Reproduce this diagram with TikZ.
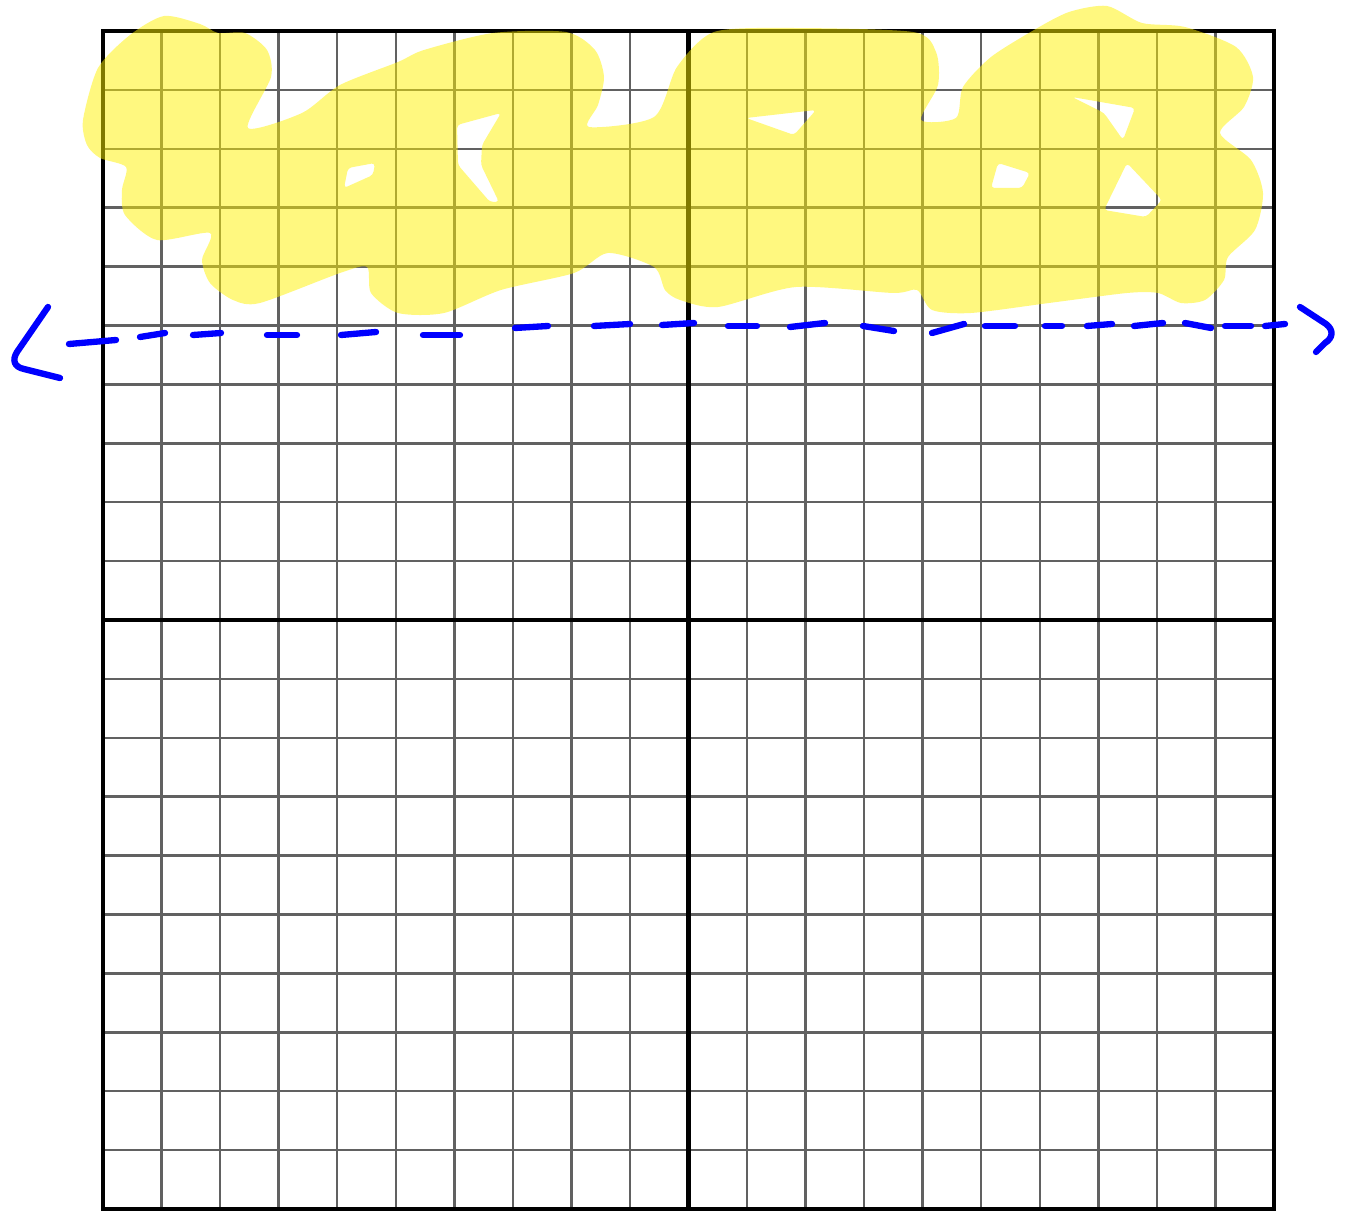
\documentclass[tikz,border=0pt]{standalone}
\usepackage{tikz}

\tikzset{
  thinline/.style={line width=1.4pt, black!62},
  thickline/.style={line width=2.8pt, black},
  marker/.style={fill=yellow, fill opacity=0.5, even odd rule},
  guide/.style={line width=3.6pt, blue, line cap=round, line join=round}
}

\begin{document}
\begin{tikzpicture}[x=0.02cm, y=-0.02cm]
  \useasboundingbox (0,0) rectangle (1346,1212);
  % grid
  \foreach \i in {1,...,19}{
    \draw[thinline] (103+58.55*\i, 31) to (103+58.55*\i, 1209);
    \draw[thinline] (103, 31+58.9*\i) to (1274, 31+58.9*\i);
  }
  \draw[thickline] (103, 31) rectangle (1274, 1209);
  \draw[thickline] (688.5, 31) to (688.5, 1209);
  \draw[thickline] (103, 620) to (1274, 620);
  % highlighter
  \fill[marker]
    plot[smooth cycle, tension=0.45] coordinates {
      (83,120) (98,68) (130,35) (164,16) (200,24) (218,33) (245,33) (267,50)
      (271,77) (248,128) (302,113) (340,85) (398,62) (424,50) (493,33)
      (566,32) (595,50) (604,77) (598,105) (589,127) (654,117) (677,67)
      (714,32) (790,28) (913,32) (936,52) (938,85) (921,120) (956,118)
      (963,87) (991,57) (1034,30) (1069,12) (1107,6) (1142,23) (1185,27)
      (1236,47) (1253,77) (1244,107) (1220,133) (1251,160) (1263,193)
      (1255,230) (1228,257) (1224,280) (1205,300) (1181,303) (1158,293)
      (1127,293) (1049,303) (971,313) (932,310) (917,290) (893,293)
      (796,287) (718,307) (680,300) (665,290) (654,267) (608,253) (574,273)
      (501,290) (444,313) (398,313) (371,293) (367,267) (340,273) (260,303)
      (233,300) (210,283) (202,260) (210,233) (157,240) (125,215) (122,190)
      (126,167) (100,158) (87,145)}
    [rounded corners=2pt]
    (344,188) -- (348,168) -- (375,163) -- (373,175) -- cycle
    (457,125) -- (501,113) -- (482,145) -- (481,165) -- (499,202)
      -- (490,202) -- (458,165) -- cycle
    (746,118) -- (816,110) -- (794,135) -- cycle
    (998,163) -- (1030,173) -- (1022,188) -- (991,188) -- cycle
    (1072,97) -- (1135,108) -- (1123,140) -- (1104,113) -- cycle
    (1127,163) -- (1162,200) -- (1146,217) -- (1104,210) -- cycle;
  % dashed guide line
  \foreach \a/\b/\c/\d in {69/344/116/340, 140/337/165/333, 193/335/221/333,
      267/335/297/335, 341/335/376/332, 423/335/460/335, 515/328/548/326,
      594/326/630/324, 662/325/694/323, 728/326/757/326, 790/327/825/323,
      863/326/894/331, 932/333/964/324, 985/326/1015/326, 1045/326/1062/326,
      1087/326/1112/324, 1134/326/1163/323, 1185/323/1211/328,
      1225/326/1251/326, 1265/326/1285/324}
    \draw[guide] (\a,\b) to (\c,\d);
  \draw[guide] (48,307) -- (17,352) .. controls (12,360) and (14,367) .. (24,369) -- (60,378);
  \draw[guide] (1300,307) -- (1326,324) .. controls (1334,330) and (1333,338) .. (1325,343) -- (1316,352);
\end{tikzpicture}
\end{document}
